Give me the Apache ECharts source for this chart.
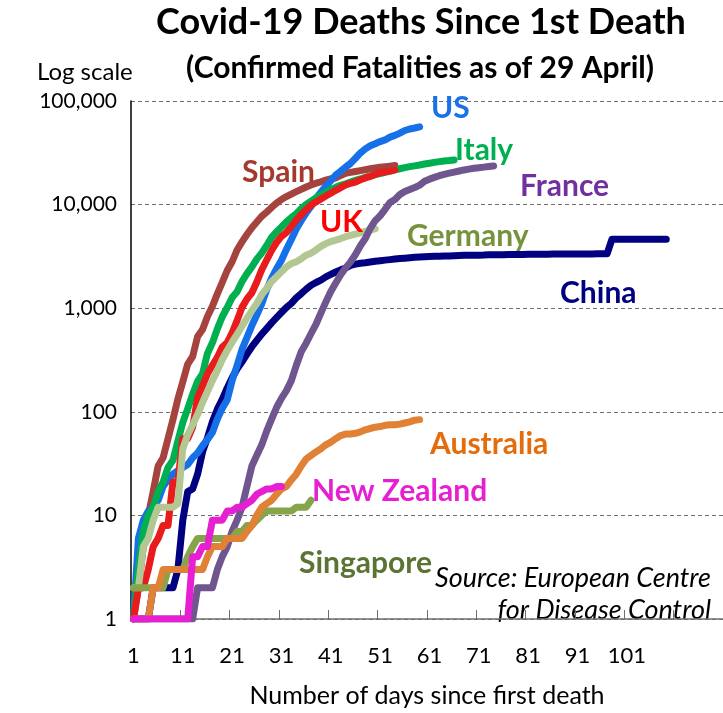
<!DOCTYPE html>
<html>
<head>
<meta charset="utf-8">
<script src="https://cdn.jsdelivr.net/npm/echarts@6/dist/echarts.min.js"></script>
<style>
html,body{margin:0;padding:0;background:#fff;}
#c{width:723px;height:713px;}
</style>
</head>
<body>
<div id="c"></div>
<script>
// ---- data (cumulative deaths, day 1 = first death) ----
var days = [];
for (var i = 1; i <= 120; i++) days.push(String(i));
var yTicks = [1, 10, 100, 1000, 10000, 100000];

var china = [1,1,1,1,2,2,2,2,2,3,9,17,18,25,41,56,80,106,132,170,
  213,259,304,361,425,490,563,636,722,811,908,1016,1113,1259,1380,1523,1665,1770,1868,2004,
  2118,2236,2345,2442,2592,2663,2715,2744,2788,2835,2870,2912,2943,2981,3012,3042,3070,3097,3119,3136,
  3158,3169,3176,3189,3199,3213,3226,3237,3245,3249,3253,3259,3274,3274,3281,3285,3291,3296,3299,3304,
  3308,3309,3316,3322,3326,3330,3333,3335,3335,3337,3339,3340,3343,3343,3345,3345,3346,4632,4632,4632,
  4632,4632,4632,4632,4632,4632,4632,4633,4633];
var spain = [1,2,5,10,17,30,36,55,84,133,195,289,342,533,623,830,1043,1375,1772,2311,
  2808,3647,4365,5138,5982,6803,7716,8464,9387,10348,11198,11947,12641,13341,14045,14792,15447,16081,16606,17209,
  17756,18056,19130,20043,20453,20852,21282,21717,22157,22524,22902,23190,23521,23822];
var us = [1,6,9,11,12,14,19,22,25,27,29,31,36,40,47,54,63,85,108,130,
  200,280,400,520,680,860,1100,1500,1950,2400,2900,3700,4600,5800,7000,8300,9600,11500,13200,15000,
  17000,19300,21000,23000,25000,28000,31500,34500,37000,38700,40600,42100,44800,46600,49000,51900,53700,54900,56300];
var italy = [1,3,7,10,12,17,21,29,34,52,79,107,148,197,233,366,463,631,827,1016,
  1266,1441,1809,2158,2503,2978,3405,4032,4825,5476,6077,6820,7503,8165,9134,10023,10779,11591,12428,13155,
  13915,14681,15362,15887,16523,17127,17669,18279,18849,19468,19899,20465,21067,21645,22170,22745,23227,23660,24114,24648,
  25085,25549,25969,26384,26644,26977];
var uk = [1,2,2,3,5,6,8,8,21,21,55,55,71,137,177,233,281,335,422,465,
  578,759,1019,1228,1408,1789,2352,2921,3605,4313,4934,5373,6159,7097,7978,8958,9875,10612,11329,12107,
  12868,13729,14576,15464,16060,16509,17337,18100,18738,19506,20319,20732,21092,21678];
var germany = [2,2,5,6,9,12,12,12,12,13,44,60,75,94,123,157,200,250,320,390,
  470,560,670,800,950,1107,1350,1550,1810,2016,2250,2500,2700,2800,3000,3250,3400,3650,3950,4200,
  4400,4550,4700,4900,5050,5200,5350,5500,5650,5850];
var france = [1,1,1,1,1,1,1,1,1,1,1,1,1,2,2,2,2,3,4,5,
  7,9,12,19,30,38,48,65,85,110,135,160,200,280,380,460,570,700,900,1150,
  1450,1750,2100,2450,2800,3300,4000,4700,5900,7000,7800,9000,10500,11200,12500,13400,14000,14600,15400,16800,
  17600,18300,19000,19600,20100,20600,21100,21600,22000,22400,22700,23000,23300,23600];
var singapore = [2,2,2,2,2,2,2,3,3,3,3,4,5,6,6,6,6,6,6,6,
  6,7,7,8,8,9,10,11,11,11,11,11,11,12,12,12,14];
var australia = [1,1,1,1,2,2,3,3,3,3,3,3,3,3,3,4,5,5,5,6,
  6,6,6,7,8,10,12,13,14,16,18,19,22,25,30,35,38,41,44,48,
  51,55,59,61,61,62,64,67,69,71,72,74,75,75,76,78,80,83,84];
var newZealand = [1,1,1,1,1,1,1,1,1,1,1,1,4,4,5,5,9,9,9,11,
  11,12,12,13,14,16,17,18,18,19,19];

var FONT = 'Lato';

var seriesDefs = [
  {name:'China', data:china, color:'#000080'},
  {name:'Spain', data:spain, color:'#a5443f'},
  {name:'US', data:us, color:'#1670e8'},
  {name:'Italy', data:italy, color:'#00b050'},
  {name:'UK', data:uk, color:'#e81c1c'},
  {name:'Germany', data:germany, color:'#b3c793'},
  {name:'France', data:france, color:'#6f568f'},
  {name:'Singapore', data:singapore, color:'#86a44a'},
  {name:'Australia', data:australia, color:'#e08135'},
  {name:'New Zealand', data:newZealand, color:'#e61fd3'}
];

var labelDefs = [
  {t:'US', x:431, y:108, c:'#1a72e6'},
  {t:'Italy', x:455, y:150, c:'#00b050'},
  {t:'Spain', x:242, y:172, c:'#a5392f'},
  {t:'France', x:520, y:186, c:'#7030a0'},
  {t:'UK', x:320, y:222, c:'#ff0000'},
  {t:'Germany', x:407, y:236, c:'#76923c'},
  {t:'China', x:560, y:293, c:'#000080'},
  {t:'Australia', x:430, y:444, c:'#e46c0a'},
  {t:'New Zealand', x:312, y:491, c:'#e61fd3'},
  {t:'Singapore', x:299, y:563, c:'#5b7333'}
];

var chart = echarts.init(document.getElementById('c'), null, {renderer:'canvas'});

var graphics = [
  {type:'text', x:421, y:22, style:{text:'Covid-19 Deaths Since 1st Death', font:'bold 36px ' + FONT, fill:'#000', textAlign:'center', textVerticalAlign:'middle'}},
  {type:'text', x:420, y:68, style:{text:'(Confirmed Fatalities as of 29 April)', font:'bold 30px ' + FONT, fill:'#000', textAlign:'center', textVerticalAlign:'middle'}},
  {type:'text', x:37, y:72, style:{text:'Log scale', font:'24px ' + FONT, fill:'#000', textVerticalAlign:'middle'}},
  {type:'text', x:711, y:578, style:{text:'Source: European Centre', font:'italic 27px ' + FONT, fill:'#000', textAlign:'right', textVerticalAlign:'middle'}},
  {type:'text', x:711, y:610, style:{text:'for Disease Control', font:'italic 27px ' + FONT, fill:'#000', textAlign:'right', textVerticalAlign:'middle'}}
];
labelDefs.forEach(function(l){
  graphics.push({type:'text', x:l.x, y:l.y, z:100, style:{text:l.t, font:'bold 30px ' + FONT, fill:l.c, textVerticalAlign:'middle'}});
});

chart.setOption({
  animation:false,
  backgroundColor:'#fff',
  grid:{left:131, right:0, top:101, bottom:82, containLabel:false},
  xAxis:{
    type:'category',
    data:days,
    boundaryGap:true,
    name:'Number of days since first death',
    nameLocation:'middle',
    nameGap:64,
    nameTextStyle:{fontFamily:FONT, fontSize:25, color:'#000'},
    axisLine:{show:true, lineStyle:{color:'#6f6f6f', width:1.5}},
    axisTick:{show:true, inside:true, length:9, interval:9, lineStyle:{color:'#6f6f6f', width:1}},
    axisLabel:{interval:9, margin:26, fontFamily:FONT, fontSize:22, color:'#000',
      formatter:function(v){ return (+v <= 101) ? v : ''; }},
    splitLine:{show:false}
  },
  yAxis:{
    type:'log',
    logBase:10,
    min:yTicks[0],
    max:yTicks[yTicks.length-1],
    axisLine:{show:true, lineStyle:{color:'#000', width:1.5}},
    axisTick:{show:false},
    axisLabel:{margin:14, fontFamily:FONT, fontSize:21, color:'#000',
      formatter:function(v){ return Number(v).toLocaleString('en-US'); }},
    splitLine:{show:true, lineStyle:{color:'#6f6f6f', type:[4,3], width:1}}
  },
  series: seriesDefs.map(function(s){
    return {
      name:s.name, type:'line', data:s.data, showSymbol:false, symbol:'none',
      lineStyle:{color:s.color, width:7, cap:'round', join:'round'},
      itemStyle:{color:s.color},
      emphasis:{disabled:true},
      z:2
    };
  }),
  graphic:graphics
});
</script>
</body>
</html>
